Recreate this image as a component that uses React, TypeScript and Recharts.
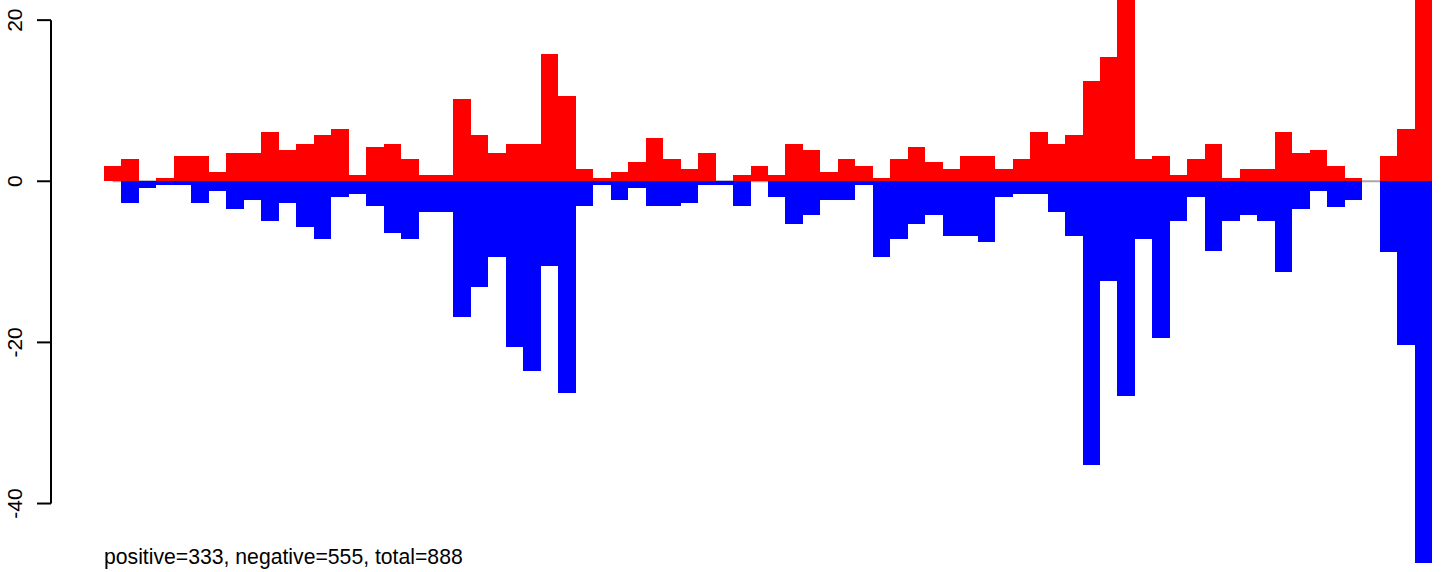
import React from 'react';
import { BarChart, Bar, XAxis, YAxis, ReferenceLine } from 'recharts';

const categories = [
  1, 2, 3, 4, 5, 6, 7, 8, 9, 10, 11, 12, 13, 14, 15, 16, 17, 18, 19, 20,
  21, 22, 23, 24, 25, 26, 27, 28, 29, 30, 31, 32, 33, 34, 35, 36, 37, 38, 39, 40,
  41, 42, 43, 44, 45, 46, 47, 48, 49, 50, 51, 52, 53, 54, 55, 56, 57, 58, 59, 60,
  61, 62, 63, 64, 65, 66, 67, 68, 69, 70, 71, 72, 73, 74, 75, 76,
];

const positiveValues = [
  1.86, 2.73, 0, 0.37, 3.1, 3.1, 1.12, 3.48, 3.48, 6.09,
  3.85, 4.6, 5.71, 6.46, 0.79, 4.22, 4.6, 2.73, 0.79, 0.79,
  10.19, 5.71, 3.48, 4.6, 4.6, 15.78, 10.56, 1.49, 0.37, 1.12,
  2.36, 5.34, 2.73, 1.49, 3.48, 0, 0.75, 1.86, 0.75, 4.6,
  3.85, 1.12, 2.73, 1.86, 0.37, 2.73, 4.22, 2.36, 1.49, 3.1,
  3.1, 1.49, 2.73, 6.09, 4.6, 5.71, 12.42, 15.4, 26, 2.73,
  3.1, 0.75, 2.73, 4.6, 0.37, 1.49, 1.49, 6.09, 3.48, 3.85,
  1.86, 0.37, 0, 3.1, 6.46, 30,
];

const negativeValues = [
  0, -2.69, -0.83, -0.46, -0.46, -2.69, -1.24, -3.48, -2.36, -4.93,
  -2.69, -5.67, -7.16, -1.95, -1.57, -3.06, -6.42, -7.16, -3.81, -3.81,
  -16.85, -13.13, -9.4, -20.58, -23.56, -10.52, -26.29, -3.06, -0.46, -2.32,
  -0.83, -3.06, -3.06, -2.69, -0.46, -0.46, -3.06, 0, -1.95, -5.3,
  -4.18, -2.36, -2.36, -0.46, -9.4, -7.16, -5.3, -4.18, -6.79, -6.79,
  -7.54, -1.95, -1.57, -1.57, -3.81, -6.79, -35.24, -12.42, -26.67, -7.16,
  -19.46, -4.93, -1.95, -8.65, -4.93, -4.18, -4.93, -11.26, -3.44, -1.27,
  -3.14, -2.37, 0, -8.74, -20.34, -47.4,
];

const yTicks = [20, 0, -20, -40];
const yDomain: [number, number] = [-48.5, 22.5];
const footnote = 'positive=333, negative=555, total=888';

const data = categories.map((c, i) => ({
  cat: c,
  pos: positiveValues[i],
  neg: negativeValues[i],
}));

const FONT = '"Liberation Sans", Arial, Helvetica, sans-serif';

const YTick = (props: any) => {
  const { y, payload } = props;
  return (
    <text
      x={22}
      y={y}
      transform={`rotate(-90, 22, ${y})`}
      textAnchor="middle"
      fontSize={21}
      fontFamily={FONT}
      fill="#000"
    >
      {payload.value}
    </text>
  );
};

export default function App() {
  return (
    <div style={{ position: 'absolute', left: 0, top: 0, width: 1444, height: 572, background: '#fff' }}>
      <BarChart
        width={1444}
        height={572}
        data={data}
        margin={{ top: 0, right: 0, bottom: 0, left: 0 }}
        stackOffset="sign"
        barCategoryGap={0}
        barGap={0}
      >
        <XAxis xAxisId="cat" dataKey="cat" hide padding={{ left: 53, right: 12 }} />
        <XAxis xAxisId="num" type="number" domain={[0, 1]} hide allowDataOverflow />
        <YAxis
          type="number"
          domain={yDomain}
          allowDataOverflow
          ticks={yTicks}
          interval={0}
          width={51}
          axisLine={false}
          tickSize={14}
          tickLine={{ stroke: '#000', strokeWidth: 2 }}
          tick={<YTick />}
        />
        <ReferenceLine
          xAxisId="cat"
          segment={[
            { x: categories[0], y: 0 },
            { x: categories[categories.length - 1], y: 0 },
          ]}
          stroke="#a8a8a8"
          strokeWidth={2}
          zIndex={100}
        />
        <Bar
          xAxisId="cat"
          dataKey="pos"
          stackId="s"
          fill="#ff0000"
          barSize={17.47}
          shapeRendering="crispEdges"
          isAnimationActive={false}
        />
        <Bar
          xAxisId="cat"
          dataKey="neg"
          stackId="s"
          fill="#0000ff"
          barSize={17.47}
          shapeRendering="crispEdges"
          isAnimationActive={false}
        />
        <ReferenceLine
          xAxisId="num"
          segment={[
            { x: 0, y: yTicks[0] },
            { x: 0, y: yTicks[yTicks.length - 1] },
          ]}
          stroke="#000"
          strokeWidth={2}
          ifOverflow="visible"
        />
      </BarChart>
      <svg width={1444} height={572} style={{ position: 'absolute', left: 0, top: 0, pointerEvents: 'none' }}>
        <text x={104} y={563.5} fontSize={21.2} fontFamily={FONT} fill="#000">
          {footnote}
        </text>
      </svg>
    </div>
  );
}
